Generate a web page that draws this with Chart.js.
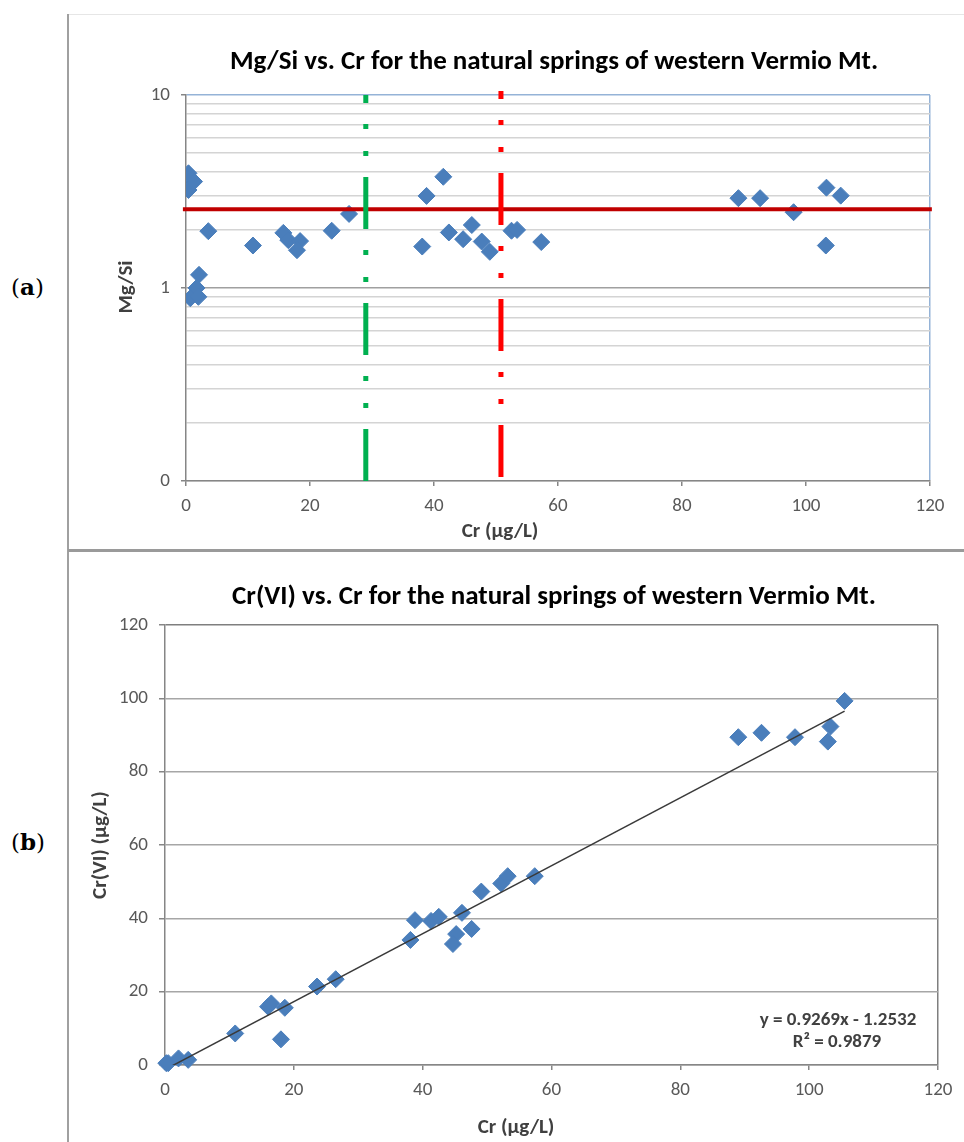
<!DOCTYPE html>
<html>
<head>
<meta charset="utf-8">
<script src="https://cdn.jsdelivr.net/npm/chart.js@4.4.1/dist/chart.umd.min.js"></script>
<style>
  body { margin: 0; background: #ffffff; }
  #page { position: relative; width: 964px; height: 1142px; overflow: hidden; }
  .rule { position: absolute; }
  .tag { position: absolute; font-family: "DejaVu Serif", serif; font-size: 23px; color: #000; }
  canvas { position: absolute; }
</style>
</head>
<body>
<div id="page">
  <div class="rule" style="left:68px;top:14px;width:896px;height:1px;background:#e6e6e6"></div>
  <div class="rule" style="left:67px;top:14px;width:2px;height:1128px;background:#a0a0a0"></div>
  <div class="rule" style="left:68px;top:549px;width:896px;height:3px;background:#9a9a9a"></div>
  <div class="tag" style="left:11px;top:273px">(<b>a</b>)</div>
  <div class="tag" style="left:11px;top:828px">(<b>b</b>)</div>
  <canvas id="mgsi" width="894" height="532" style="left:70px;top:16px"></canvas>
  <canvas id="crvi" width="894" height="590" style="left:70px;top:552px"></canvas>
</div>
<script>
const FONT = "Carlito, Lato, sans-serif";
const MARKER = "#4a7ebb";

// (a) Mg/Si vs Cr
const mgSiCr = [0.4, 1.3, 0.4, 2.1, 1.7, 0.7, 2.0, 3.6, 10.8, 15.7, 16.5, 18.4, 17.9, 23.5, 26.3,
  38.1, 38.8, 41.5, 42.4, 44.7, 46.1, 47.7, 49.0, 52.5, 53.4, 57.3,
  89.1, 92.6, 98.0, 103.2, 103.3, 105.6];
const mgSiRatio = [3.93, 3.56, 3.22, 1.17, 1.0, 0.885, 0.9, 1.97, 1.66, 1.93, 1.77, 1.75, 1.57, 1.98, 2.42,
  1.64, 3.0, 3.77, 1.94, 1.79, 2.12, 1.74, 1.54, 1.98, 2.0, 1.73,
  2.92, 2.92, 2.47, 1.66, 3.31, 3.01];
const mgSiLimit = 2.56;          // red horizontal line
const greenCr = 29;              // green dash-dot line
const redCr = 50.8;              // red dash-dot line
const mgSiTicks = [0.1, 0.2, 0.3, 0.4, 0.5, 0.6, 0.7, 0.8, 0.9, 1, 2, 3, 4, 5, 6, 7, 8, 9, 10];
const mgSiLabels = { 0.1: "0", 1: "1", 10: "10" };

// (b) Cr(VI) vs Cr
const crTotal = [0.2, 0.5, 2.1, 3.6, 10.9, 16.0, 16.5, 18.6, 18.0, 23.6, 26.5,
  38.1, 38.8, 41.3, 42.5, 46.1, 45.2, 44.7, 47.6, 49.1, 52.2, 53.2, 57.4,
  89.0, 92.6, 97.8, 102.9, 103.3, 105.5];
const crVI = [0.5, 0.5, 1.8, 1.4, 8.6, 15.9, 16.8, 15.6, 7.0, 21.4, 23.4,
  34.1, 39.5, 39.3, 40.4, 41.5, 35.7, 33.0, 37.1, 47.3, 49.5, 51.5, 51.5,
  89.4, 90.6, 89.4, 88.2, 92.3, 99.3];
const trendX = [0.5, 105.5];
const trendY = [-0.79, 96.5];

const dashDot = [52, 21, 5, 22, 5, 21];

function textPlugin(items) {
  return {
    id: "texts",
    afterDraw(chart) {
      const ctx = chart.ctx;
      items.forEach((t) => {
        ctx.save();
        ctx.font = t.font;
        ctx.fillStyle = t.color || "#000";
        ctx.textAlign = "center";
        ctx.textBaseline = "middle";
        ctx.translate(t.x, t.y);
        if (t.rotate) ctx.rotate(-Math.PI / 2);
        ctx.fillText(t.text, 0, 0);
        ctx.restore();
      });
    },
  };
}

function fixBox(width, height) {
  return (scale) => {
    if (width) scale.width = width;
    if (height) scale.height = height;
    scale.paddingLeft = 0;
    scale.paddingRight = 0;
    scale.paddingTop = 0;
    scale.paddingBottom = 0;
  };
}

const tickFont = { family: FONT, size: 19 };

new Chart(document.getElementById("mgsi"), {
  type: "scatter",
  data: {
    datasets: [
      {
        data: [{ x: greenCr, y: 0.1 }, { x: greenCr, y: 10 }],
        showLine: true, borderColor: "#00b050", borderWidth: 5,
        borderDash: dashDot, pointRadius: 0,
      },
      {
        data: [{ x: redCr, y: 0.105 }, { x: redCr, y: 10.5 }],
        showLine: true, borderColor: "#ff0000", borderWidth: 5,
        borderDash: dashDot, pointRadius: 0, clip: false,
      },
      {
        data: [{ x: -0.5, y: mgSiLimit }, { x: 120.3, y: mgSiLimit }],
        showLine: true, borderColor: "#c00000", borderWidth: 4,
        pointRadius: 0, clip: false,
      },
      {
        data: mgSiCr.map((x, i) => ({ x, y: mgSiRatio[i] })),
        pointStyle: "rectRot", pointRadius: 8.5,
        backgroundColor: MARKER, borderColor: MARKER, pointBorderWidth: 1,
      },
    ],
  },
  options: {
    animation: false,
    responsive: false,
    layout: { padding: { top: 79, right: 34, left: 0, bottom: 0 } },
    plugins: { legend: { display: false }, tooltip: { enabled: false } },
    scales: {
      x: {
        type: "linear", min: 0, max: 120,
        ticks: { stepSize: 20, font: tickFont, color: "#595959", padding: 9 },
        grid: {
          color: (c) => (c.tick && c.tick.value === 120 ? "#95b3d7" : "rgba(0,0,0,0)"),
          tickColor: "#868686", tickLength: 5, lineWidth: 1.5,
        },
        border: { color: "#868686", width: 1.5 },
        afterFit: fixBox(null, 67),
      },
      y: {
        type: "logarithmic", min: 0.1, max: 10,
        afterBuildTicks: (scale) => { scale.ticks = mgSiTicks.map((v) => ({ value: v })); },
        ticks: {
          autoSkip: false, font: tickFont, color: "#595959", padding: 11,
          callback: (v) => mgSiLabels[v] || "",
        },
        grid: {
          color: (c) => {
            const v = c.tick ? c.tick.value : 0;
            if (v === 10) return "#95b3d7";
            if (v === 1) return "#a0a0a0";
            return "#d4d4d4";
          },
          tickColor: (c) => (c.tick && mgSiLabels[c.tick.value] ? "#868686" : "rgba(0,0,0,0)"),
          tickLength: 5, lineWidth: 1.5,
        },
        border: { color: "#868686", width: 1.5 },
        afterFit: fixBox(116, null),
      },
    },
  },
  plugins: [textPlugin([
    { text: "Mg/Si vs. Cr for the natural springs of western Vermio Mt.", x: 484, y: 46, font: "bold 27px " + FONT },
    { text: "Mg/Si", x: 57, y: 271, rotate: true, font: "bold 21px " + FONT, color: "#404040" },
    { text: "Cr (μg/L)", x: 430, y: 516, font: "bold 21px " + FONT, color: "#404040" },
  ])],
});

new Chart(document.getElementById("crvi"), {
  type: "scatter",
  data: {
    datasets: [
      {
        data: trendX.map((x, i) => ({ x, y: trendY[i] })),
        showLine: true, borderColor: "#3a3a3a", borderWidth: 1.5, pointRadius: 0,
      },
      {
        data: crTotal.map((x, i) => ({ x, y: crVI[i] })),
        pointStyle: "rectRot", pointRadius: 8.5,
        backgroundColor: MARKER, borderColor: MARKER, pointBorderWidth: 1,
        clip: false,
      },
    ],
  },
  options: {
    animation: false,
    responsive: false,
    layout: { padding: { top: 73, right: 26, left: 0, bottom: 0 } },
    plugins: { legend: { display: false }, tooltip: { enabled: false } },
    scales: {
      x: {
        type: "linear", min: 0, max: 120,
        ticks: { stepSize: 20, font: tickFont, color: "#595959", padding: 9 },
        grid: {
          color: (c) => (c.tick && c.tick.value === 120 ? "#7f7f7f" : "rgba(0,0,0,0)"),
          tickColor: "#868686", tickLength: 5, lineWidth: 1.5,
        },
        border: { color: "#868686", width: 1.5 },
        afterFit: fixBox(null, 77),
      },
      y: {
        type: "linear", min: 0, max: 120,
        ticks: { stepSize: 20, font: tickFont, color: "#595959", padding: 11 },
        grid: {
          color: (c) => (c.tick && c.tick.value === 120 ? "#7f7f7f" : "#a6a6a6"),
          tickColor: "#868686", tickLength: 6, lineWidth: 1.5,
        },
        border: { color: "#868686", width: 1.5 },
        afterFit: fixBox(95, null),
      },
    },
  },
  plugins: [textPlugin([
    { text: "Cr(VI) vs. Cr for the natural springs of western Vermio Mt.", x: 484, y: 45, font: "bold 27px " + FONT },
    { text: "Cr(VI) (μg/L)", x: 31, y: 293, rotate: true, font: "bold 21px " + FONT, color: "#404040" },
    { text: "Cr (μg/L)", x: 446, y: 576, font: "bold 21px " + FONT, color: "#404040" },
    { text: "y = 0.9269x - 1.2532", x: 768, y: 468, font: "bold 19px " + FONT, color: "#404040" },
    { text: "R² = 0.9879", x: 767, y: 490, font: "bold 19px " + FONT, color: "#404040" },
  ])],
});
</script>
</body>
</html>
